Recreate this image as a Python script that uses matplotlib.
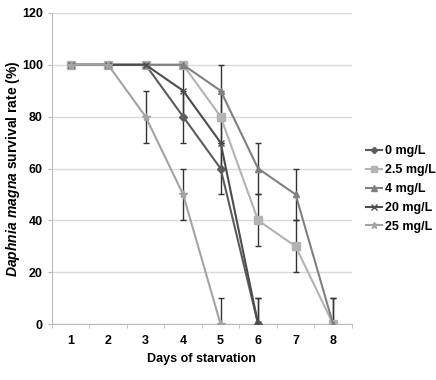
import matplotlib.pyplot as plt
import numpy as np

plt.rcParams["font.family"] = "Liberation Sans"
plt.rcParams["font.weight"] = "bold"
plt.rcParams["mathtext.fontset"] = "custom"
plt.rcParams["mathtext.bfit"] = "Liberation Sans:italic:bold"

days = [1, 2, 3, 4, 5, 6, 7, 8]
labels = ["0 mg/L", "2.5 mg/L", "4 mg/L", "20 mg/L", "25 mg/L"]

s0 = [100, 100, 100, 80, 60, 0]
s2_5 = [100, 100, 100, 100, 80, 40, 30, 0]
s4 = [100, 100, 100, 100, 90, 60, 50, 0]
s20 = [100, 100, 100, 90, 70, 0]
s25 = [100, 100, 80, 50, 0]

e0 = [0, 0, 0, 10, 10, 10]
e2_5 = [0, 0, 0, 0, 10, 10, 10, 10]
e4 = [0, 0, 0, 0, 10, 10, 10, 10]
e20 = [0, 0, 0, 10, 10, 10]
e25 = [0, 0, 10, 10, 10]

series = [s0, s2_5, s4, s20, s25]
errors = [e0, e2_5, e4, e20, e25]
colors = ["#5c5c5c", "#b3b3b3", "#808080", "#4d4d4d", "#a3a3a3"]
markers = ["D", "s", "^", "x", "*"]
msizes = [4, 6, 5, 5, 6]

fig = plt.figure(figsize=(4.36, 3.80), dpi=100)
ax = fig.add_axes([0.119, 0.147, 0.688, 0.819])

for y, err, c, m, ms, lab in zip(series, errors, colors, markers, msizes, labels):
    x = days[:len(y)]
    ax.errorbar(x, y, yerr=err, color=c, marker=m, markersize=ms, linewidth=1.5,
                ecolor="#333333", elinewidth=1, capsize=2, label=lab, zorder=3)

ax.set_xlim(0.5, 8.5)
ax.set_ylim(0, 120)
ax.set_xticks(days)
ax.set_xticks(np.arange(0.5, 9, 1), minor=True)
ax.set_yticks(range(0, 121, 20))
ax.tick_params(axis="x", which="major", length=0, pad=8, labelsize=9)
ax.tick_params(axis="x", which="minor", length=3, color="#bbbbbb")
ax.tick_params(axis="y", length=3, color="#bbbbbb", labelsize=9)
ax.grid(axis="y", color="#d9d9d9", linewidth=1)
ax.set_axisbelow(True)
for s in ["top", "right"]:
    ax.spines[s].set_visible(False)
for s in ["left", "bottom"]:
    ax.spines[s].set_color("#bbbbbb")

ax.set_xlabel("Days of starvation", fontsize=9, fontweight="bold")
ax.set_ylabel(r"$\mathbfit{Daphnia\ magna}$ survival rate (%)", fontsize=10, fontweight="bold")
ax.yaxis.set_label_coords(-0.10, 0.5)

handles, labs = ax.get_legend_handles_labels()
handles = [h[0] for h in handles]
ax.legend(handles, labs, loc="center left", bbox_to_anchor=(1.01, 0.434), frameon=False,
          fontsize=9, handlelength=1.3, handletextpad=0.2, labelspacing=0.55,
          markerscale=0.8)

fig.savefig("out.png", dpi=100)
